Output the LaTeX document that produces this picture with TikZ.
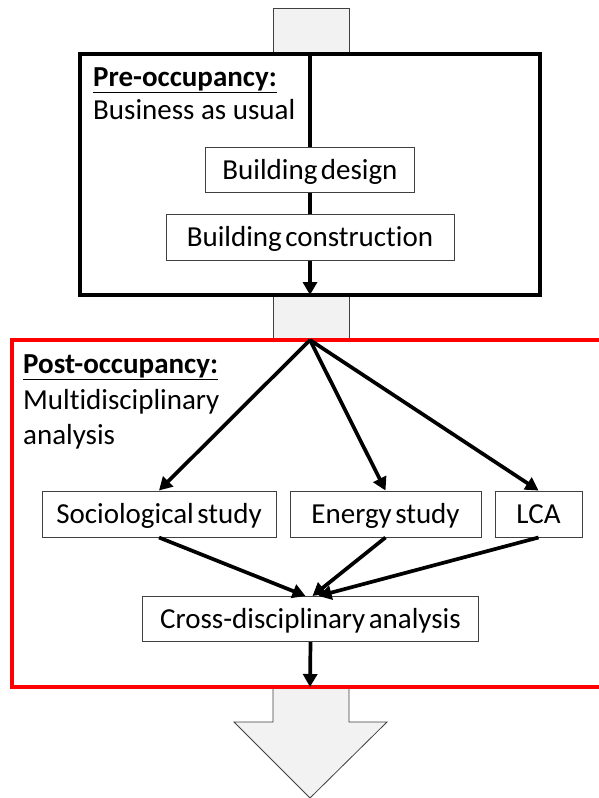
\documentclass[tikz,border=0pt]{standalone}
\usepackage{fontspec}
\setmainfont{Carlito}[Ligatures=NoCommon]
\usetikzlibrary{arrows.meta}
\definecolor{boxgray}{HTML}{F2F2F2}
\definecolor{edgegray}{HTML}{404040}
\definecolor{phasered}{HTML}{FF0000}
\newcommand\myboxfont{\fontsize{29}{34}\selectfont\spaceskip=0.12em plus 0.02em\relax}
\begin{document}
\begin{tikzpicture}[x=1pt,y=-1pt,
  every node/.style={font=\fontsize{29}{34}\selectfont, inner sep=0pt},
  stepbox/.style={draw=edgegray, line width=1pt, fill=white, minimum height=45pt, anchor=center,
    font=\myboxfont, text height=21pt, text depth=3pt},
  lbl/.style={anchor=base west},
  conn/.style={line width=3.7pt, -{Triangle[length=13pt,width=14pt]}},
  plainline/.style={line width=3.7pt},
  pipe/.style={fill=boxgray, draw=edgegray, line width=0.8pt},
  phase/.style={line width=4.2pt}]
\useasboundingbox (0,0) rectangle (599,798);
\clip (0,0) rectangle (599,798);
% grey pipes
\draw[pipe] (273,8) rectangle (349,54);
\draw[pipe] (273,295) rectangle (349,340);
\draw[pipe] (273,687) -- (349,687) -- (349,722) -- (387,722) -- (310,798) -- (234,722) -- (273,722) -- cycle;
% phase frames
\draw[phase, draw=black] (80,54) rectangle (540,295);
\draw[phase, draw=phasered] (612,340) -- (12,340) -- (12,687) -- (612,687);
% labels
\node[lbl] (pre) at (93,86) {\underline{\textbf{Pre-occupancy:}}};
\node[lbl] (bau) at (93,119) {Business as usual};
\node[lbl] (post) at (23,373) {\underline{\textbf{Post-occupancy:}}};
\node[lbl] (multi) at (23,409) {Multidisciplinary};
\node[lbl] (anal) at (23,444) {analysis};
% coordinates
\coordinate (pretop) at (310,54);
\coordinate (prebot) at (310,295);
\coordinate (posttop) at (310,340);
\coordinate (postbot) at (310,687);
% boxes
\node[stepbox, minimum width=209pt] (design) at (310,170) {Building design};
\node[stepbox, minimum width=288pt, minimum height=46pt] (constr) at (310,237) {Building construction};
\node[stepbox, minimum width=234pt, minimum height=46pt] (soc) at (159,514) {Sociological study};
\node[stepbox, minimum width=191pt, minimum height=46pt] (energy) at (385.5,514) {Energy study};
\node[stepbox, minimum width=87pt, minimum height=46pt] (lca) at (538.5,514) {LCA};
\node[stepbox, minimum width=336pt] (cross) at (310.5,619) {Cross-disciplinary analysis};
% connectors
\draw[plainline] (pretop) -- (design.north);
\draw[plainline] (design.south) -- (constr.north);
\draw[conn] (constr.south) -- (prebot);
\draw[conn] (posttop) -- (soc.north);
\draw[conn] (posttop) -- (energy.north);
\draw[conn] (posttop) -- (lca.north);
\draw[conn] (soc.south) -- ([xshift=-5pt]cross.north);
\draw[conn] (energy.south) -- ([xshift=2pt]cross.north);
\draw[conn] (lca.south) -- ([xshift=8pt]cross.north);
\draw[conn] (cross.south) -- (postbot);
\end{tikzpicture}
\end{document}
